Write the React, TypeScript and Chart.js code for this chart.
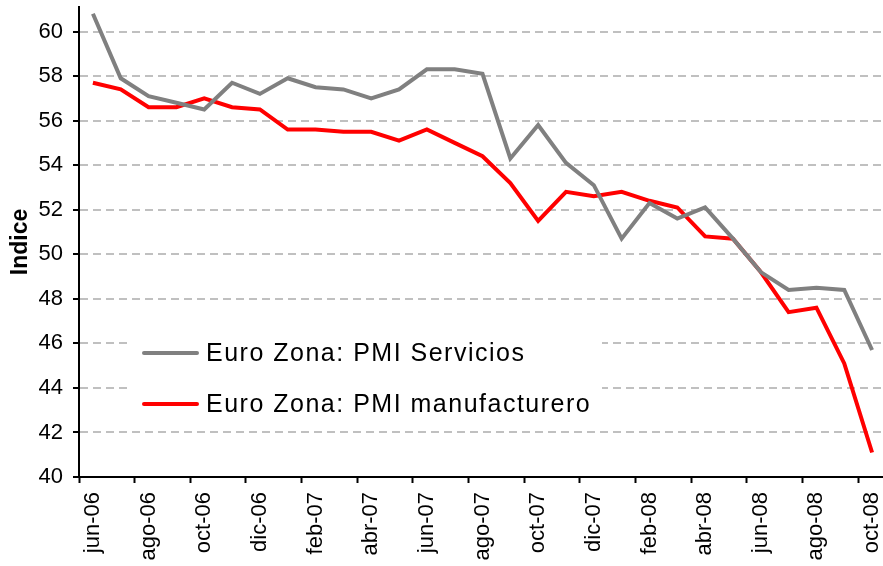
import React, { useEffect, useRef } from "react";
import { Chart, registerables } from "chart.js";

Chart.register(...registerables);

const months = [
  "jun-06", "jul-06", "ago-06", "sep-06", "oct-06", "nov-06", "dic-06",
  "ene-07", "feb-07", "mar-07", "abr-07", "may-07", "jun-07", "jul-07",
  "ago-07", "sep-07", "oct-07", "nov-07", "dic-07",
  "ene-08", "feb-08", "mar-08", "abr-08", "may-08", "jun-08", "jul-08",
  "ago-08", "sep-08", "oct-08",
];

const servicios = [
  60.8, 57.9, 57.1, 56.8, 56.5, 57.7, 57.2, 57.9, 57.5, 57.4, 57.0, 57.4,
  58.3, 58.3, 58.1, 54.3, 55.8, 54.1, 53.1, 50.7, 52.3, 51.6, 52.1, 50.7,
  49.2, 48.4, 48.5, 48.4, 45.7,
];

const manufacturero = [
  57.7, 57.4, 56.6, 56.6, 57.0, 56.6, 56.5, 55.6, 55.6, 55.5, 55.5, 55.1,
  55.6, 55.0, 54.4, 53.2, 51.5, 52.8, 52.6, 52.8, 52.4, 52.1, 50.8, 50.7,
  49.2, 47.4, 47.6, 45.1, 41.1,
];

const yTicks = [40, 42, 44, 46, 48, 50, 52, 54, 56, 58, 60];
const seriesNames = ["Euro Zona: PMI Servicios", "Euro Zona: PMI manufacturero"];
const seriesColors = ["#808080", "#FF0000"];
const yTitle = "Indice";

const FONT = "'Liberation Sans', Arial, Helvetica, sans-serif";

const insideLegend = {
  id: "insideLegend",
  afterDatasetsDraw(chart: any) {
    const ctx = chart.ctx;
    const a = chart.chartArea;
    const boxL = a.left + 48;
    const boxT = a.top + 305;
    ctx.save();
    ctx.fillStyle = "#ffffff";
    ctx.fillRect(boxL, boxT, 475, 108);
    chart.data.datasets.forEach((ds: any, i: number) => {
      const y = a.top + 346 + i * 51;
      ctx.strokeStyle = ds.borderColor;
      ctx.lineWidth = 4;
      ctx.lineCap = "round";
      ctx.beginPath();
      ctx.moveTo(boxL + 17, y);
      ctx.lineTo(boxL + 70, y);
      ctx.stroke();
      ctx.fillStyle = "#000000";
      ctx.font = `25px ${FONT}`;
      (ctx as any).letterSpacing = "1.5px";
      ctx.textBaseline = "middle";
      ctx.textAlign = "left";
      ctx.fillText(ds.label, boxL + 79, y + 1);
    });
    ctx.restore();
  },
};

export default function App() {
  const ref = useRef<HTMLCanvasElement | null>(null);

  useEffect(() => {
    if (!ref.current) return;
    const chart = new Chart(ref.current, {
      type: "line",
      data: {
        labels: months,
        datasets: [
          {
            label: seriesNames[0],
            data: servicios,
            borderColor: seriesColors[0],
            backgroundColor: seriesColors[0],
            borderWidth: 4,
            pointRadius: 0,
            tension: 0,
          },
          {
            label: seriesNames[1],
            data: manufacturero,
            borderColor: seriesColors[1],
            backgroundColor: seriesColors[1],
            borderWidth: 4,
            pointRadius: 0,
            tension: 0,
          },
        ],
      },
      options: {
        responsive: false,
        animation: false,
        devicePixelRatio: 1,
        layout: { padding: { top: 7, right: 4, bottom: 0, left: 0 } },
        plugins: {
          legend: { display: false },
          tooltip: { enabled: false },
        },
        scales: {
          x: {
            type: "category",
            offset: true,
            grid: {
              offset: true,
              drawOnChartArea: false,
              drawTicks: true,
              tickLength: 6,
              tickWidth: 2,
              tickColor: (c: any) => (c.index !== undefined && c.index % 2 === 0 ? "#000000" : "rgba(0,0,0,0)"),
              color: "rgba(0,0,0,0)",
            },
            border: { display: true, color: "#000000", width: 2 },
            ticks: {
              autoSkip: false,
              minRotation: 90,
              maxRotation: 90,
              padding: 9,
              color: "#000000",
              font: { family: FONT, size: 22 },
              callback: (_v: any, i: number) => (i % 2 === 0 ? months[i] : ""),
            },
            afterFit: (s: any) => {
              s.height = 89;
              s.paddingLeft = 0;
              s.paddingRight = 0;
            },
          },
          y: {
            type: "linear",
            min: 40,
            max: 61.1,
            afterBuildTicks: (s: any) => {
              s.ticks = yTicks.map((v) => ({ value: v }));
            },
            grid: {
              color: "#C0C0C0",
              lineWidth: 2,
              drawTicks: true,
              tickLength: 6,
              tickWidth: 2,
              tickColor: "#000000",
            },
            border: { display: true, color: "#000000", width: 2, dash: [8, 5] },
            ticks: {
              padding: 10,
              color: "#000000",
              font: { family: FONT, size: 22 },
            },
            title: {
              display: true,
              text: yTitle,
              color: "#000000",
              font: { family: FONT, size: 23, weight: "bold" },
              padding: { top: 7, bottom: 0 },
            },
            afterFit: (s: any) => {
              s.width = 79;
              s.paddingTop = 0;
              s.paddingBottom = 0;
            },
          },
        },
      },
      plugins: [insideLegend],
    } as any);
    return () => chart.destroy();
  }, []);

  return (
    <div
      style={{
        position: "fixed",
        left: 0,
        top: 0,
        width: 883,
        height: 566,
        overflow: "hidden",
        background: "#ffffff",
      }}
    >
      <canvas ref={ref} width={890} height={566} style={{ width: 890, height: 566, display: "block" }} />
    </div>
  );
}
